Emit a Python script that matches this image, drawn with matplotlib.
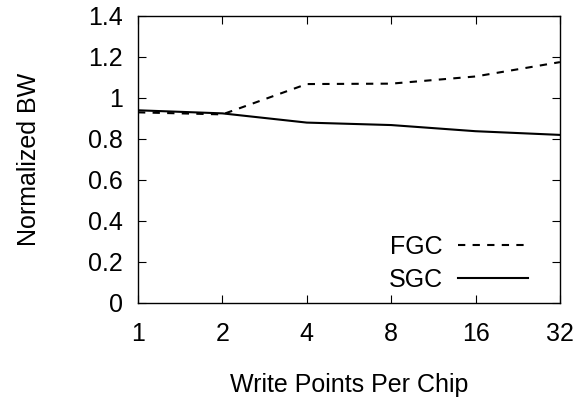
import matplotlib
matplotlib.use('Agg')
import matplotlib.pyplot as plt

plt.rcParams['font.family'] = ['Liberation Sans', 'DejaVu Sans']

write_points = ['1', '2', '4', '8', '16', '32']
fgc = [0.93, 0.92, 1.068, 1.07, 1.105, 1.175]
sgc = [0.94, 0.925, 0.88, 0.868, 0.838, 0.82]

fig = plt.figure(figsize=(5.86, 3.97), dpi=100)
ax = fig.add_axes([0.2355, 0.2368, 0.72, 0.7229])

xs = list(range(len(write_points)))
ax.plot(xs, fgc, color='black', lw=1.5, dashes=(3.5, 3.5), label='FGC')
ax.plot(xs, sgc, color='black', lw=1.5, label='SGC')

ax.set_xlim(0, len(write_points) - 1)
ax.set_ylim(0, 1.4)
ax.set_xticks(xs)
ax.set_xticklabels(write_points)
ax.set_yticks([0, 0.2, 0.4, 0.6, 0.8, 1.0, 1.2, 1.4])
ax.set_yticklabels(['0', '0.2', '0.4', '0.6', '0.8', '1', '1.2', '1.4'])
ax.tick_params(direction='in', length=6, width=0.8, top=True, right=True,
               labelsize=18)
ax.tick_params(axis='y', pad=11)
ax.tick_params(axis='x', pad=14)
for s in ax.spines.values():
    s.set_linewidth(1.0)

ax.set_xlabel('Write Points Per Chip', fontsize=18, labelpad=19)
ax.set_ylabel('Normalized BW', fontsize=18, labelpad=34)

ax.legend(loc='lower right', bbox_to_anchor=(0.924, 0.04), frameon=False,
          markerfirst=False, fontsize=18, handlelength=2.8, handletextpad=0.6,
          labelspacing=0.35, borderpad=0, borderaxespad=0)

fig.savefig('out.png', dpi=100)
